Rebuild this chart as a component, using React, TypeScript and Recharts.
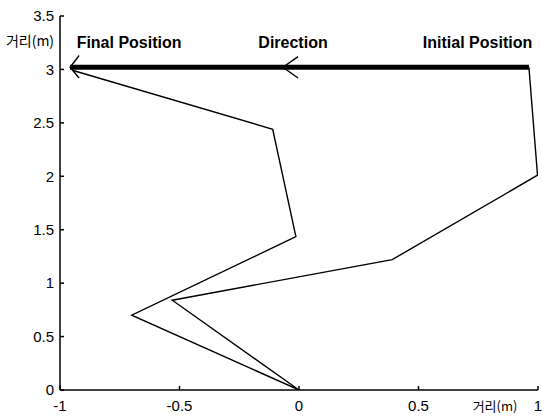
import React from 'react';
import { LineChart, Line, XAxis, YAxis, ReferenceDot } from 'recharts';

// ---- data ----
const xTicks = [-1, -0.5, 0, 0.5, 1];
const xTickLabels = ['-1', '-0.5', '0', '0.5', '1'];
const yTicks = [0, 0.5, 1, 1.5, 2, 2.5, 3, 3.5];
const yTickLabels = ['0', '0.5', '1', '1.5', '2', '2.5', '3', '3.5'];

// thick straight line: initial -> final position
const straightX = [0.962, -0.958];
const straightY = [3.02, 3.02];

// thin trajectory
const pathX = [0.962, 0.998, 0.39, -0.53, 0, -0.7, -0.013, -0.11, -0.945];
const pathY = [3.02, 2.01, 1.22, 0.84, 0, 0.7, 1.435, 2.44, 2.99];

// arrow heads
const finalArrowX = [-0.92, -0.958, -0.92];
const finalArrowY = [3.13, 3.02, 2.92];
const dirArrowX = [-0.004, -0.067, -0.004];
const dirArrowY = [3.12, 3.02, 2.92];

// annotations
const annotationLabels = ['Final Position', 'Direction', 'Initial Position'];
const annotationX = [-0.711, -0.025, 0.747];
const annotationY = [3.255, 3.255, 3.255];
const axisTitle = '거리(m)';

const zip = (xs: number[], ys: number[]) => xs.map((x, i) => ({ x, y: ys[i] }));

const straightData = zip(straightX, straightY);
const pathData = zip(pathX, pathY);
const finalArrowData = zip(finalArrowX, finalArrowY);
const dirArrowData = zip(dirArrowX, dirArrowY);

const FONT = '"Liberation Sans", Arial, sans-serif';
const CJK = '"Noto Sans CJK KR", "Noto Sans", sans-serif';

const YTitle = (props: any) => {
  const vb = props.viewBox || { x: 0, y: 16, width: 60 };
  return (
    <text x={vb.x + 30} y={vb.y + 24} textAnchor="middle" dominantBaseline="central" fontSize={14} fontFamily={CJK} fill="#000">
      {axisTitle}
    </text>
  );
};

const XTitle = (props: any) => {
  const vb = props.viewBox || { x: 60, y: 390, width: 478 };
  return (
    <text x={vb.x + vb.width - 43} y={vb.y + 15} textAnchor="middle" dominantBaseline="central" fontSize={13} fontFamily={CJK} fill="#000">
      {axisTitle}
    </text>
  );
};

export default function App() {
  return (
    <div style={{ position: 'absolute', left: 0, top: 0, background: '#fff' }}>
      <LineChart width={542} height={416} margin={{ top: 16, right: 4, bottom: 0, left: 0 }}>
        <XAxis
          type="number"
          dataKey="x"
          domain={[-1, 1]}
          ticks={xTicks}
          allowDataOverflow
          height={26}
          tickSize={-4}
          tickMargin={14}
          tickFormatter={(v: number, i: number) => xTickLabels[i] ?? String(v)}
          tick={{ fill: '#000', fontSize: 15, fontFamily: FONT }}
          stroke="#000"
          strokeWidth={1.5}
          label={<XTitle />}
        />
        <YAxis
          type="number"
          dataKey="y"
          domain={[0, 3.5]}
          ticks={yTicks}
          allowDataOverflow
          width={60}
          tickSize={-4}
          tickMargin={10}
          tickFormatter={(v: number, i: number) => yTickLabels[i] ?? String(v)}
          tick={{ fill: '#000', fontSize: 15, fontFamily: FONT }}
          stroke="#000"
          strokeWidth={1.5}
          label={<YTitle />}
        />
        <Line data={pathData} dataKey="y" type="linear" stroke="#000" strokeWidth={1.4} dot={false} isAnimationActive={false} />
        <Line data={straightData} dataKey="y" type="linear" stroke="#000" strokeWidth={5} dot={false} isAnimationActive={false} />
        <Line data={finalArrowData} dataKey="y" type="linear" stroke="#000" strokeWidth={1.4} dot={false} isAnimationActive={false} />
        <Line data={dirArrowData} dataKey="y" type="linear" stroke="#000" strokeWidth={1.4} dot={false} isAnimationActive={false} />
        {annotationLabels.map((t, i) => (
          <ReferenceDot
            key={t}
            x={annotationX[i]}
            y={annotationY[i]}
            r={0}
            fill="none"
            stroke="none"
            label={{ value: t, position: 'center', fill: '#000', fontSize: 16, fontWeight: 'bold', fontFamily: FONT }}
          />
        ))}
      </LineChart>
    </div>
  );
}
